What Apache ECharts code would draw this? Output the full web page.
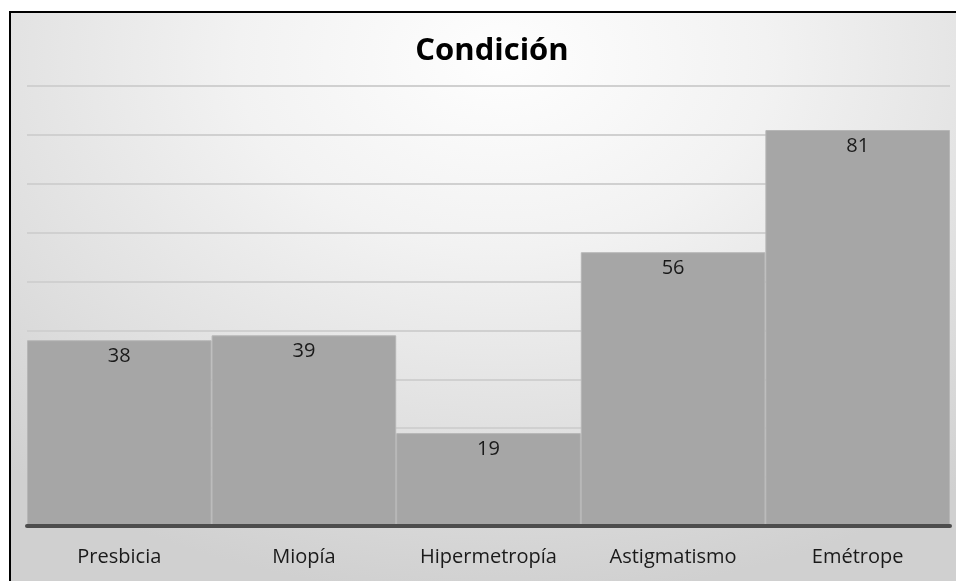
<!DOCTYPE html>
<html>
<head>
<meta charset="utf-8">
<script src="https://cdn.jsdelivr.net/npm/echarts@6/dist/echarts.min.js"></script>
<style>
  html, body { margin: 0; padding: 0; background: #ffffff; }
  #frame {
    position: absolute; left: 9px; top: 11px; width: 947px; height: 570px;
    border-left: 2px solid #000; border-top: 2px solid #000; box-sizing: border-box;
    background: radial-gradient(ellipse 80% 95% at 52% 8%, #fefefe 0%, #f2f2f2 35%, #dfdfdf 72%, #d0d0d0 100%);
  }
  #chart { position: absolute; left: 0; top: 0; width: 956px; height: 581px; }
</style>
</head>
<body>
<div id="frame"></div>
<div id="chart"></div>
<script>
const titleText = 'Condición';
const categories = ['Presbicia', 'Miopía', 'Hipermetropía', 'Astigmatismo', 'Emétrope'];
const values = [38, 39, 19, 56, 81];
const yMin = 0, yMax = 90, yInterval = 10;

const chart = echarts.init(document.getElementById('chart'), null, { renderer: 'canvas' });
const fontFam = '"Open Sans", "Liberation Sans", sans-serif';
chart.setOption({
  backgroundColor: 'transparent',
  animation: false,
  title: {
    text: titleText,
    left: 487, top: 31, textAlign: 'center',
    textStyle: { fontFamily: fontFam, fontWeight: 'bold', fontSize: 31, color: '#000' }
  },
  grid: { left: 27, right: 6, top: 86, bottom: 55, containLabel: false },
  xAxis: {
    type: 'category', data: categories, z: 5,
    axisLine: { show: true, lineStyle: { color: '#4d4d4d', width: 4 } },
    axisTick: { show: false },
    axisLabel: { fontFamily: fontFam, fontSize: 20, color: '#1a1a1a', margin: 21 }
  },
  yAxis: {
    type: 'value', min: yMin, max: yMax, interval: yInterval,
    axisLine: { show: false }, axisTick: { show: false }, axisLabel: { show: false },
    splitLine: { show: true, lineStyle: { color: '#d0d0d0', width: 2 } }
  },
  series: [{
    type: 'bar', data: values, barCategoryGap: '0%',
    itemStyle: { color: '#a6a6a6', borderColor: '#b6b6b6', borderWidth: 1 },
    label: { show: true, position: 'insideTop', distance: 6, fontFamily: fontFam, fontSize: 20, color: '#1a1a1a' }
  }]
});
</script>
</body>
</html>
